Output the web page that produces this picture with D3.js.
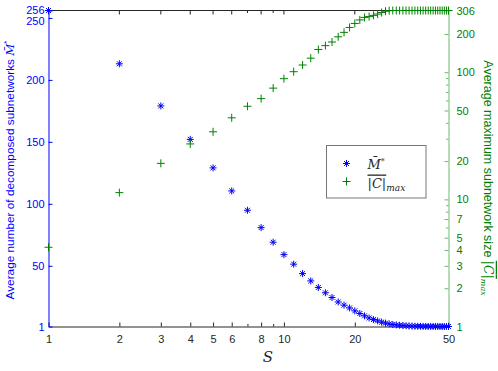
<!DOCTYPE html>
<html>
<head>
<meta charset="utf-8">
<script src="https://cdn.jsdelivr.net/npm/d3@7"></script>
<style>
  body { margin: 0; background: #fff; }
  svg { display: block; font-family: "Liberation Sans", Arial, sans-serif; }
</style>
</head>
<body>
<div id="chart"></div>
<script>
// S = 1..50
const sizes = d3.range(1, 51)

// average number of decomposed subnetworks M*
const mValues = [256, 213, 179, 152, 129, 110.4, 94.8, 80.8, 69, 59,
    51.3, 43.7, 37.8, 32.5, 28.2, 24.4, 20.8, 18.2, 16, 13.6,
    11.5, 9.6, 7.9, 6.6, 5.5, 4.5, 3.7, 3.1, 2.6, 2.3,
    2.0, 1.8, 1.6, 1.45, 1.35, 1.25, 1.2, 1.15, 1.1, 1.08,
    1.06, 1.05, 1.04, 1.03, 1.02, 1.02, 1.01, 1.01, 1.01, 1.0]

// average maximum subnetwork size |C|max
const cValues = [4.2, 11.3, 19.2, 27.3, 34, 43.8, 54, 62, 75, 89,
    101, 114, 129, 151, 162, 173, 190, 206, 225, 242,
    258, 270, 274, 280, 287, 295, 302, 305, 306, 306,
    306, 306, 306, 306, 306, 306, 306, 306, 306, 306,
    306, 306, 306, 306, 306, 306, 306, 306, 306, 306]

const xTicks = [1, 2, 3, 4, 5, 6, 7, 8, 9, 10, 20, 50]
const xLabels = [1, 2, 3, 4, 5, 6, 8, 10, 20, 50]
const leftTicks = [1, 50, 100, 150, 200, 250, 256]
const rightTicks = [1, 2, 3, 4, 5, 6, 7, 8, 9, 10, 20, 30, 40, 50, 60, 70, 80, 90, 100, 200, 306]
const rightLabels = [1, 2, 3, 4, 5, 7, 10, 20, 50, 100, 200, 306]

const BLUE = "#0000ff", GREEN = "#008000"

const W = 498, H = 371
const x0 = 48.5, x1 = 448.5, y0 = 10.5, y1 = 326.5

const svg = d3.select("#chart").append("svg")
    .attr("width", W).attr("height", H)

let x = d3.scaleLog().domain([1, 50]).range([x0, x1])
let yL = d3.scaleLinear().domain([1, 256]).range([y1, y0])
let yR = d3.scaleLog().domain([1, 306]).range([y1, y0])

// top border line
svg.append("line")
    .attr("x1", x0).attr("x2", x1).attr("y1", y0).attr("y2", y0)
    .attr("stroke", "#262626")

// bottom axis
const xAxis = svg.append("g")
    .attr("transform", "translate(0," + y1 + ")")
    .call(d3.axisBottom(x).tickValues(xTicks)
        .tickSizeInner(-4).tickSizeOuter(0)
        .tickFormat(d => xLabels.includes(d) ? d : ""))
xAxis.select(".domain").attr("stroke", "#262626")
xAxis.selectAll(".tick line").attr("stroke", "#262626")
    .attr("y2", d => xLabels.includes(d) ? -4 : -2.5)
xAxis.selectAll(".tick text").attr("y", 9).attr("font-size", 11).attr("fill", "#262626")

// top ticks
svg.append("g").selectAll("line").data(xTicks).enter().append("line")
    .attr("x1", d => x(d)).attr("x2", d => x(d))
    .attr("y1", y0).attr("y2", d => y0 + (xLabels.includes(d) ? 4 : 2.5))
    .attr("stroke", "#262626")

// left axis
const leftAxis = svg.append("g")
    .attr("transform", "translate(" + x0 + ",0)")
    .call(d3.axisLeft(yL).tickValues(leftTicks)
        .tickSizeInner(-4).tickSizeOuter(0))
leftAxis.select(".domain").attr("stroke", BLUE)
leftAxis.selectAll(".tick line").attr("stroke", BLUE)
leftAxis.selectAll(".tick text").attr("x", -4).attr("font-size", 11).attr("fill", BLUE)
leftAxis.selectAll(".tick").filter(d => d === 250).select("text").attr("dy", "0.6em")
leftAxis.selectAll(".tick").filter(d => d === 256).select("text").attr("dy", "0.3em")

// right axis
const rightAxis = svg.append("g")
    .attr("transform", "translate(" + x1 + ",0)")
    .call(d3.axisRight(yR).tickValues(rightTicks)
        .tickSizeInner(-4).tickSizeOuter(0)
        .tickFormat(d => rightLabels.includes(d) ? d : ""))
rightAxis.select(".domain").attr("stroke", "#6fb86f")
rightAxis.selectAll(".tick line").attr("stroke", "#6fb86f")
    .attr("x2", d => rightLabels.includes(d) ? -4 : -2.5)
rightAxis.selectAll(".tick text").attr("x", 8).attr("font-size", 11).attr("fill", GREEN)

// marker shapes
const asterisk = r => {
    const d = r * Math.SQRT1_2
    return `M${-r},0L${r},0M0,${-r}L0,${r}M${-d},${-d}L${d},${d}M${-d},${d}L${d},${-d}`
}
const plus = r => `M${-r},0L${r},0M0,${-r}L0,${r}`

const mData = sizes.map((s, i) => ({s, v: mValues[i]}))
const cData = sizes.map((s, i) => ({s, v: cValues[i]}))

svg.append("g").selectAll("path").data(mData).enter().append("path")
    .attr("transform", d => "translate(" + x(d.s) + "," + yL(d.v) + ")")
    .attr("d", asterisk(3.5))
    .attr("stroke", BLUE).attr("fill", "none").attr("stroke-width", 1)

svg.append("g").selectAll("path").data(cData).enter().append("path")
    .attr("transform", d => "translate(" + x(d.s) + "," + yR(d.v) + ")")
    .attr("d", plus(4))
    .attr("stroke", GREEN).attr("fill", "none").attr("stroke-width", 1)

// axis titles
const leftTitle = svg.append("text")
    .attr("transform", "translate(14,170) rotate(-90)")
    .attr("text-anchor", "middle").attr("font-size", 11.8).attr("fill", BLUE)
leftTitle.append("tspan").text("Average number of decomposed subnetworks ")
leftTitle.append("tspan").attr("font-family", "DejaVu Serif, serif").attr("font-style", "italic").text("M\u0304")
leftTitle.append("tspan").attr("font-size", 8).attr("dy", -5).text("*")

const rightTitle = svg.append("text")
    .attr("transform", "translate(484,178) rotate(90)")
    .attr("text-anchor", "middle").attr("font-size", 12.5).attr("fill", GREEN)
rightTitle.append("tspan").text("Average maximum subnetwork size ")
rightTitle.append("tspan").attr("font-family", "DejaVu Serif, serif")
    .style("text-decoration", "overline").text("|")
rightTitle.append("tspan").attr("font-family", "DejaVu Serif, serif").attr("font-style", "italic")
    .style("text-decoration", "overline").text("C")
rightTitle.append("tspan").attr("font-family", "DejaVu Serif, serif")
    .style("text-decoration", "overline").text("|")
rightTitle.append("tspan").attr("font-family", "DejaVu Serif, serif").attr("font-style", "italic")
    .attr("font-size", 8).attr("dy", 3).text("max")

svg.append("text")
    .attr("x", 268).attr("y", 362)
    .attr("text-anchor", "middle")
    .attr("font-family", "DejaVu Serif, serif").attr("font-style", "italic")
    .attr("font-size", 15).attr("fill", "#262626")
    .text("S")

// legend
const legend = svg.append("g").attr("transform", "translate(326.5,145.5)")
legend.append("rect")
    .attr("width", 99.5).attr("height", 52.5)
    .attr("fill", "#fff").attr("stroke", "#777")

legend.append("path").attr("transform", "translate(20,18)")
    .attr("d", asterisk(3.5)).attr("stroke", BLUE).attr("fill", "none")
legend.append("path").attr("transform", "translate(20,36)")
    .attr("d", plus(4)).attr("stroke", GREEN).attr("fill", "none")

const l1 = legend.append("text").attr("x", 41).attr("y", 23)
    .attr("font-family", "DejaVu Serif, serif").attr("font-size", 13).attr("fill", "#262626")
l1.append("tspan").attr("font-style", "italic").text("M\u0304")
l1.append("tspan").attr("font-size", 8).attr("dy", -5).text("*")

const l2 = legend.append("text").attr("x", 41).attr("y", 42)
    .attr("font-family", "DejaVu Serif, serif").attr("font-size", 13).attr("fill", "#262626")
l2.append("tspan").style("text-decoration", "overline").text("|")
l2.append("tspan").attr("font-style", "italic").style("text-decoration", "overline").text("C")
l2.append("tspan").style("text-decoration", "overline").text("|")
l2.append("tspan").attr("font-style", "italic").attr("font-size", 9).attr("dy", 3).text("max")
</script>
</body>
</html>
